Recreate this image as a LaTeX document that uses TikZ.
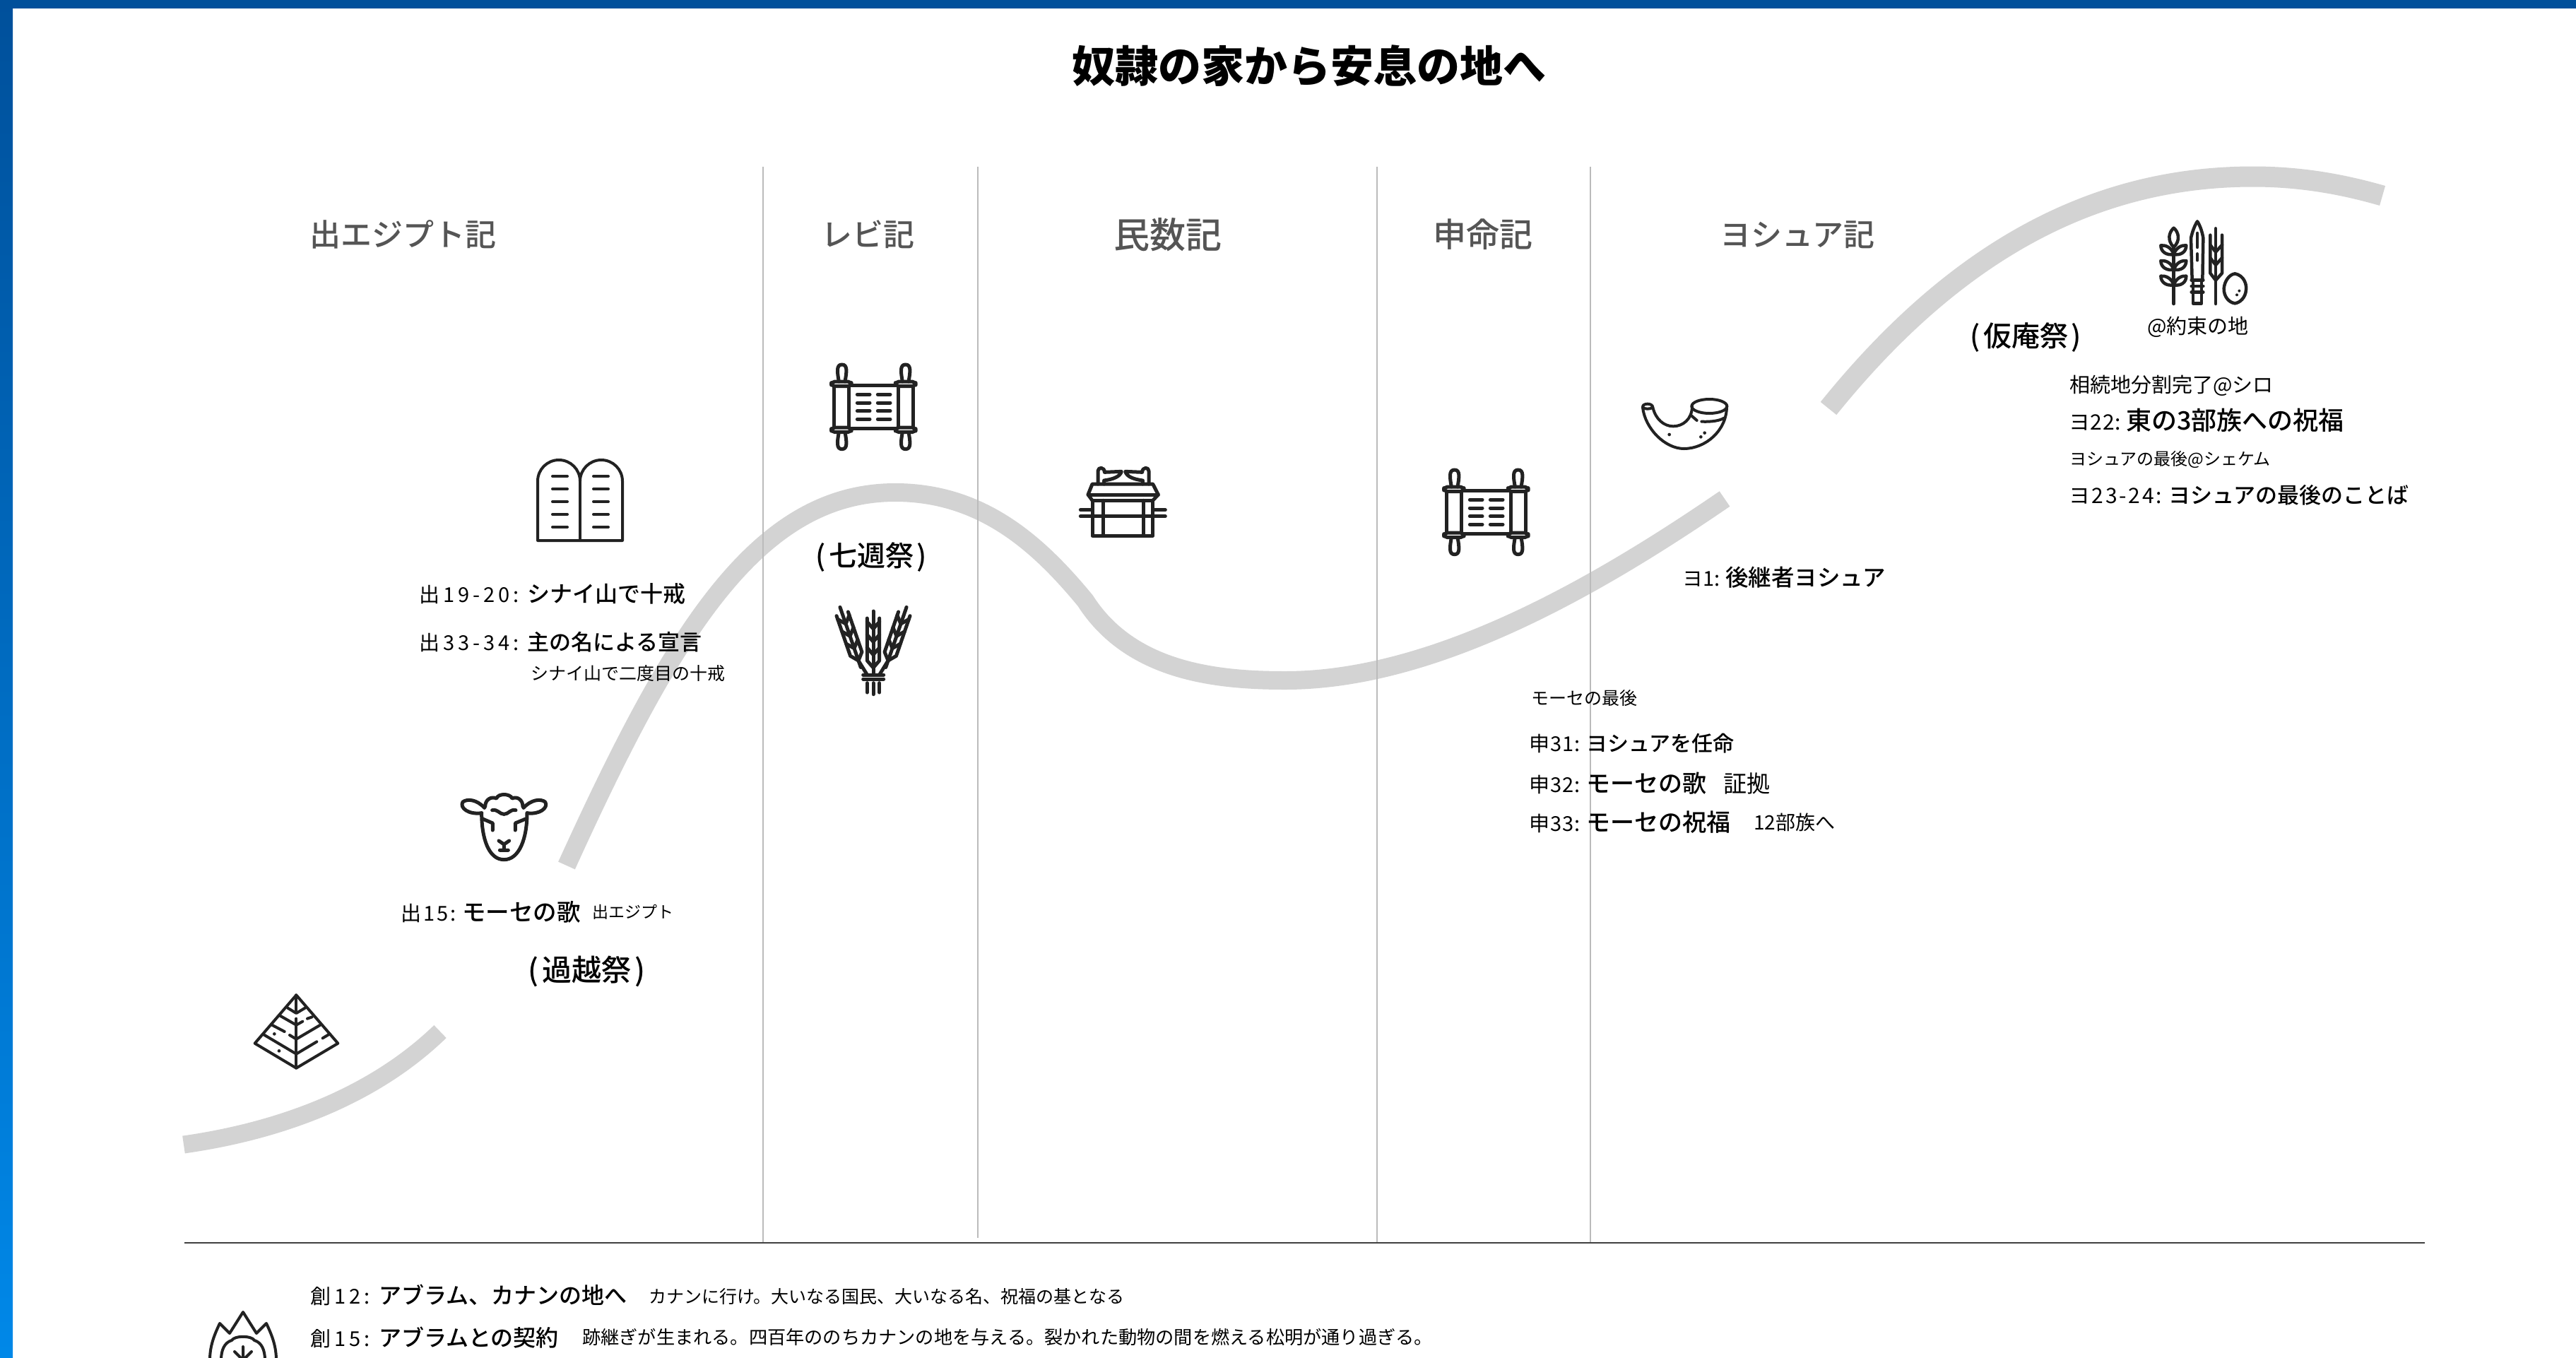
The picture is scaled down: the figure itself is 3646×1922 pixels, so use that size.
\documentclass[tikz,border=0pt]{standalone}
\usepackage{fontspec}
\setmainfont{Noto Sans CJK JP}
\newfontfamily\med{Noto Sans CJK JP Medium}
\definecolor{ink}{HTML}{222222}
\definecolor{road}{HTML}{D3D3D3}
\definecolor{rule}{HTML}{BBBBBB}
\definecolor{head}{HTML}{555555}
\definecolor{bluetop}{HTML}{00509B}
\definecolor{bluebot}{HTML}{0088E8}
\newcommand{\fsz}[1]{\fontsize{#1}{#1}\selectfont}
\newcommand{\ent}[6]{\makebox[#2pt][l]{\fsz{#3}\addfontfeature{LetterSpace=#6}#1}{\med\fsz{#4}#5}}
\newcommand{\scrollpaths}{%
    \draw[rounded corners=5pt] (80,120) rectangle (165,140);
    \draw[rounded corners=5pt] (80,315) rectangle (165,335);
    \draw[rounded corners=5pt] (352,120) rectangle (438,140);
    \draw[rounded corners=5pt] (352,315) rectangle (438,335);
    \draw (92,140) -- (92,315) (155,140) -- (155,315) (365,140) -- (365,315) (428,140) -- (428,315);
    \draw (165,137) -- (352,137) (165,318) -- (352,318);
    \draw (112,120) .. controls (105,80) and (100,48) .. (125,48) .. controls (150,48) and (145,80) .. (138,120);
    \draw (382,120) .. controls (375,80) and (370,48) .. (395,48) .. controls (420,48) and (415,80) .. (408,120);
    \draw (112,335) .. controls (105,375) and (100,407) .. (125,407) .. controls (150,407) and (145,375) .. (138,335);
    \draw (382,335) .. controls (375,375) and (370,407) .. (395,407) .. controls (420,407) and (415,375) .. (408,335);
    \foreach \yy in {175,210,245,280}{\draw (190,\yy) -- (243,\yy) (277,\yy) -- (330,\yy);}%
}
\newcommand{\earpaths}{%
    \draw (0,30) -- (0,-240);
    \draw (-26,-210) -- (-26,-30) -- (0,0) -- (26,-30) -- (26,-210);
    \foreach \yy in {-85,-140,-195}{\draw (-26,\yy) -- (0,\yy+30) -- (26,\yy);}%
}
\tikzset{
  txt/.style={anchor=west,inner sep=0pt,text=black},
  ctr/.style={anchor=center,inner sep=0pt,text=black},
  heading/.style={anchor=center,inner sep=0pt,text=head},
  roadline/.style={draw=road,line cap=butt},
  divider/.style={draw=rule,line width=1.8pt},
  icon/.style={draw=ink,line width=5pt,line cap=round,line join=round}
}
\begin{document}
\begin{tikzpicture}[x=1pt,y=-1pt]
\useasboundingbox (0,0) rectangle (3646,1922);
\clip (0,0) rectangle (3646,1922);
\fill[white] (0,0) rectangle (3646,1922);
\shade[top color=bluetop,bottom color=bluebot] (0,0) rectangle (18,1922);
\fill[bluetop] (0,0) rectangle (3646,12);

% road
\coordinate (r1a) at (260,1620);
\coordinate (r1b) at (623,1460);
\coordinate (r2a) at (802,1225);
\coordinate (r2p) at (1267,697);
\coordinate (r2m) at (1536,850);
\coordinate (r2l) at (1819,963);
\coordinate (r2b) at (2441,706);
\coordinate (r3a) at (2588,578);
\coordinate (r3p) at (3189,250);
\coordinate (r3b) at (3372,277);
\draw[roadline,line width=25pt] (r1a) .. controls (400,1600) and (530,1550) .. (r1b);
\draw[roadline,line width=26pt] (r2a) .. controls (950,900) and (1070,697) .. (r2p)
  .. controls (1390,697) and (1470,770) .. (r2m)
  .. controls (1600,950) and (1720,963) .. (r2l)
  .. controls (2030,963) and (2260,830) .. (r2b);
\draw[roadline,line width=29pt] (r3a) .. controls (2780,340) and (2980,250) .. (r3p)
  .. controls (3260,250) and (3320,262) .. (r3b);

% dividers
\draw[divider] (1080,236) -- (1080,1759);
\draw[divider] (1384,236) -- (1384,1752);
\draw[divider] (1949,236) -- (1949,1759);
\draw[divider] (2251,236) -- (2251,1759);
\draw[draw=black!75,line width=2.5pt] (261,1759) -- (3432,1759);

% title and headings
\node[ctr,font=\fsz{61}\bfseries] (title) at (1853,93) {奴隷の家から安息の地へ};
\node[heading,font=\med\fsz{44}] (h1) at (570,332) {出エジプト記};
\node[heading,font=\med\fsz{44}] (h2) at (1228,332) {レビ記};
\node[heading,font=\med\fsz{51}] (h3) at (1653,332) {民数記};
\node[heading,font=\med\fsz{47}] (h4) at (2099,332) {申命記};
\node[heading,font=\med\fsz{44}] (h5) at (2544,332) {ヨシュア記};

% labels
\node[txt] (a1) at (593,840) {\ent{出19-20:}{153}{29}{32}{シナイ山で十戒}{17}};
\node[txt] (a2) at (593,909) {\ent{出33-34:}{153}{29}{31}{主の名による宣言}{17}};
\node[txt,font=\fsz{25}] (a3) at (751,953) {シナイ山で二度目の十戒};
\node[txt] (b1) at (567,1291) {\ent{出15:}{87}{29}{33.5}{モーセの歌}{11}};
\node[txt,font=\fsz{23}] (b2) at (838,1291) {出エジプト};
\node[ctr,font=\med\fsz{42}] (f1) at (830,1375) {(\hspace{5pt}過越祭\hspace{5pt})};
\node[ctr,font=\med\fsz{40}] (f2) at (1233,789) {(\hspace{4pt}七週祭\hspace{4pt})};
\node[ctr,font=\med\fsz{40}] (f3) at (2867,478) {(\hspace{4pt}仮庵祭\hspace{4pt})};
\node[ctr,font=\fsz{29}] (c0) at (3111,463) {@約束の地};
\node[txt,font=\fsz{29}] (c1) at (2929,546) {相続地分割完了@シロ};
\node[txt] (c2) at (2928,595) {\ent{ヨ22:}{81}{30}{36}{東の3部族への祝福}{2}};
\node[txt,font=\fsz{24}] (c3) at (2929,650) {ヨシュアの最後@シェケム};
\node[txt] (c4) at (2928,701) {\ent{ヨ23-24:}{141}{30}{31}{ヨシュアの最後のことば}{9}};
\node[txt] (d1) at (2381,817) {\ent{ヨ1:}{61}{29}{32.5}{後継者ヨシュア}{0}};
\node[txt,font=\fsz{25}] (e0) at (2167,988) {モーセの最後};
\node[txt] (e1) at (2164,1052) {\ent{申31:}{81}{29}{30}{ヨシュアを任命}{4}};
\node[txt] (e2) at (2164,1109) {\ent{申32:}{81}{29}{34}{モーセの歌}{4}};
\node[txt,font=\fsz{33}] (e2b) at (2439,1109) {証拠};
\node[txt] (e3) at (2164,1164) {\ent{申33:}{81}{29}{34}{モーセの祝福}{4}};
\node[txt,font=\fsz{28}] (e3b) at (2482,1164) {12部族へ};
\node[txt] (g1) at (439,1833) {\ent{創12:}{97}{29}{32}{アブラム、カナンの地へ}{17}};
\node[txt,font=\fsz{25}] (g1b) at (918,1835) {カナンに行け。大いなる国民、大いなる名、祝福の基となる};
\node[txt] (g2) at (439,1893) {\ent{創15:}{97}{29}{32}{アブラムとの契約}{17}};
\node[txt,font=\fsz{26.2}] (g2b) at (824,1893) {跡継ぎが生まれる。四百年ののちカナンの地を与える。裂かれた動物の間を燃える松明が通り過ぎる。};

% tablets
\begin{scope}[icon,line width=4pt]
\draw (761,765) -- (761,681) arc[start angle=-180,end angle=0,radius=30] arc[start angle=-180,end angle=0,radius=30] -- (881,765) -- cycle;
\draw (821,681) -- (821,765);
\foreach \yy in {674,692,710,728,746}{\draw (782,\yy) -- (803,\yy) (840,\yy) -- (861,\yy);}
\end{scope}

% sheep
\begin{scope}[shift={(620,1090)},scale=1/3,icon]
\draw (185,182) .. controls (185,290) and (215,380) .. (280,380) .. controls (345,380) and (378,290) .. (378,182);
\draw (197,160) .. controls (165,125) and (125,120) .. (105,135) .. controls (90,160) and (130,190) .. (185,182);
\draw (363,160) .. controls (395,125) and (435,120) .. (455,135) .. controls (470,160) and (430,190) .. (378,182);
\draw (200,155) .. controls (200,125) and (225,110) .. (248,120) .. controls (255,98) and (305,98) .. (315,120) .. controls (335,110) and (360,125) .. (360,155);
\draw (230,170) .. controls (255,165) and (260,187) .. (280,187) .. controls (300,187) and (305,165) .. (330,170);
\draw (190,207) -- (232,225) -- (232,255);
\draw (372,207) -- (328,225) -- (328,255);
\draw (258,300) -- (280,315) -- (302,300) (280,315) -- (280,340) (262,340) -- (298,340);
\end{scope}

% pyramid
\begin{scope}[shift={(320,1380)},scale=1/3,icon,line width=4pt]
\draw (298,85) -- (122,290) -- (298,395) -- (475,290) -- cycle;
\draw (298,85) -- (298,150) (298,185) -- (298,395);
\draw (160,253) -- (298,335) -- (385,283) (410,268) -- (440,250);
\draw (195,212) -- (248,240) (270,255) -- (298,272) -- (400,212);
\draw (228,172) -- (298,212) -- (325,197) (345,185) -- (365,178);
\draw (262,140) -- (298,162) -- (335,140);
\fill[ink] (205,250) circle[radius=7] (225,322) circle[radius=7];
\end{scope}

% scrolls
\begin{scope}[shift={(1150,500)},scale=1/3,icon]
\scrollpaths
\end{scope}
\begin{scope}[shift={(2017,649)},scale=1/3,icon]
\scrollpaths
\end{scope}

% sheaf
\begin{scope}[shift={(1160,850)},scale=1/3,icon,line width=5pt]
\begin{scope}[shift={(228,285)}]\earpaths\end{scope}
\begin{scope}[shift={(165,255)},rotate=19]\earpaths\end{scope}
\begin{scope}[shift={(291,255)},rotate=-19]\earpaths\end{scope}
\draw (185,315) -- (272,315) (185,333) -- (272,333);
\draw (202,350) -- (202,390) (228,350) -- (228,398) (254,350) -- (254,390);
\draw (165,255) -- (202,315) (291,255) -- (254,315);
\end{scope}

% ark
\begin{scope}[shift={(1510,640)},scale=1/3,icon]
\draw (108,205) rectangle (365,355);
\draw (155,205) -- (155,355) (325,205) -- (325,355);
\draw (58,245) -- (108,245) (365,245) -- (418,245) (58,272) -- (418,272);
\draw (108,205) -- (90,180) -- (108,135) -- (365,135) -- (388,180) -- (365,205);
\draw (90,180) -- (388,180);
\draw (132,135) -- (132,80) .. controls (132,62) and (160,62) .. (160,85) -- (232,82) .. controls (225,105) and (195,115) .. (158,120) -- (158,135);
\draw (348,135) -- (348,80) .. controls (348,62) and (320,62) .. (320,85) -- (248,82) .. controls (255,105) and (285,115) .. (322,120) -- (322,135);
\end{scope}

% horn
\begin{scope}[shift={(2300,540)},scale=1/3,icon,line width=4pt]
\draw (358,105) ellipse[x radius=75,y radius=30];
\draw (118,110) .. controls (130,160) and (165,190) .. (205,190) .. controls (245,190) and (285,160) .. (285,105);
\draw (75,110) .. controls (85,200) and (170,285) .. (250,285) .. controls (340,285) and (432,210) .. (432,105);
\draw (75,110) .. controls (72,90) and (118,90) .. (118,110) .. controls (105,118) and (85,118) .. (75,110);
\draw (282,145) -- (305,165);
\draw (325,170) .. controls (370,172) and (405,165) .. (420,155);
\fill[ink] (188,225) circle[radius=7] (338,218) circle[radius=7] (322,235) circle[radius=7];
\end{scope}

% promised land
\begin{scope}[shift={(3030,300)},scale=1/3,icon,line width=4.5pt]
\draw (140,390) -- (140,150);
\draw (140,150) .. controls (110,120) and (120,85) .. (140,68) .. controls (160,85) and (170,120) .. (140,150);
\foreach \yy in {180,245,310}{
  \draw (140,\yy) .. controls (130,\yy-30) and (105,\yy-40) .. (85,\yy-38) .. controls (85,\yy-10) and (110,\yy+5) .. (140,\yy);
  \draw (140,\yy) .. controls (150,\yy-30) and (175,\yy-40) .. (193,\yy-38) .. controls (193,\yy-10) and (170,\yy+5) .. (140,\yy);
}
\draw (218,290) -- (213,110) .. controls (220,80) and (230,55) .. (240,40) .. controls (250,55) and (260,80) .. (265,110) -- (262,290);
\draw (240,90) -- (240,150) (240,178) -- (240,205);
\draw (215,290) -- (265,290) (215,315) -- (265,315) (215,340) -- (265,340);
\draw (222,290) -- (222,388) -- (258,388) -- (258,290);
\draw (318,70) -- (318,390);
\draw (295,98) -- (295,260) -- (318,290) -- (345,260) -- (345,98);
\foreach \yy in {140,195}{\draw (295,\yy) -- (318,\yy+30) -- (345,\yy);}
\draw (400,262) .. controls (440,270) and (450,310) .. (447,330) .. controls (445,365) and (420,385) .. (400,388) .. controls (375,385) and (352,360) .. (353,325) .. controls (355,295) and (375,265) .. (400,262);
\fill[ink] (418,335) circle[radius=6] (408,352) circle[radius=6];
\end{scope}

% flame
\begin{scope}[icon,line width=4pt]
\draw (297,1925) .. controls (297,1905) and (303,1890) .. (311,1873) -- (325,1887) -- (344,1857) -- (363,1887) -- (377,1873) .. controls (385,1890) and (391,1905) .. (391,1925);
\draw (313,1925) .. controls (313,1910) and (318,1900) .. (328,1897) .. controls (332,1890) and (356,1890) .. (360,1897) .. controls (370,1900) and (375,1910) .. (375,1925);
\draw (344,1906) -- (344,1925) (332,1913) -- (344,1925) -- (356,1913);
\end{scope}
\end{tikzpicture}
\end{document}
